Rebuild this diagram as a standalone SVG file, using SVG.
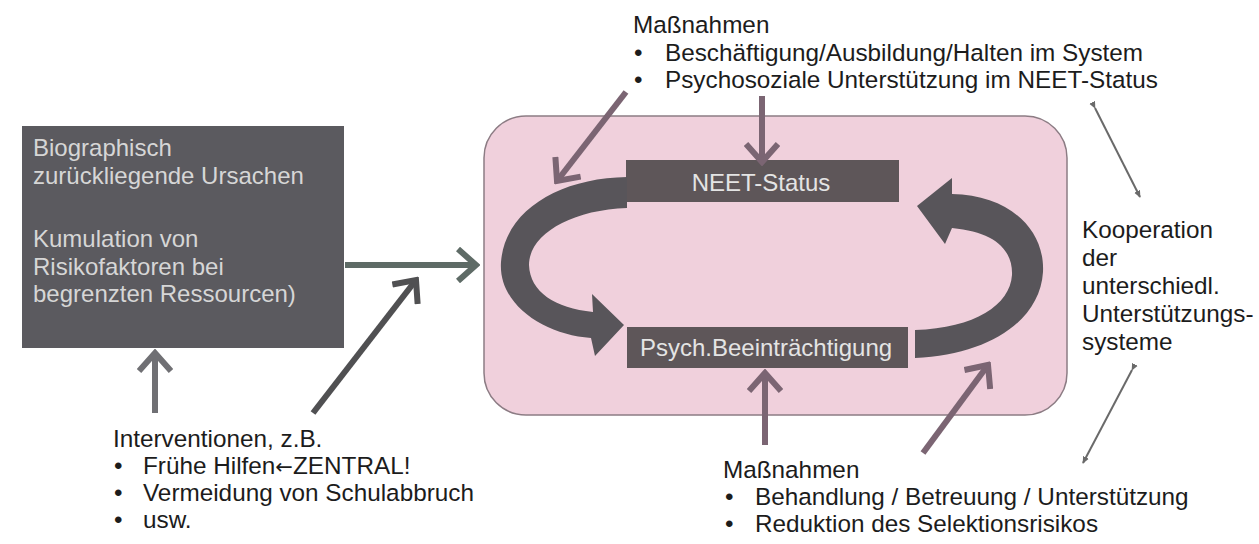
<svg xmlns="http://www.w3.org/2000/svg" width="1259" height="544" viewBox="0 0 1259 544">
<defs>
<style>
.t{font-family:"Liberation Sans",Arial,sans-serif;font-size:24.3px;fill:#1c1c1c}
.w{font-family:"Liberation Sans",Arial,sans-serif;font-size:24px;fill:#d6d6d6}
.wb{font-family:"Liberation Sans",Arial,sans-serif;font-size:24px;fill:#e4e4e4}
.m{stroke:#7b6573;stroke-width:6;fill:none}
.thin{stroke:#6a6a6a;stroke-width:2;fill:none}
</style>
<marker id="hm" viewBox="0 0 24 36" refX="20" refY="18" markerWidth="24" markerHeight="36" markerUnits="userSpaceOnUse" orient="auto"><path d="M2,2 L20,18 L2,34" fill="none" stroke="#7b6573" stroke-width="6"/></marker>
<marker id="hg" viewBox="0 0 24 36" refX="20" refY="18" markerWidth="24" markerHeight="36" markerUnits="userSpaceOnUse" orient="auto"><path d="M2,2 L20,18 L2,34" fill="none" stroke="#5e6b66" stroke-width="6"/></marker>
<marker id="hd" viewBox="0 0 24 36" refX="20" refY="18" markerWidth="24" markerHeight="36" markerUnits="userSpaceOnUse" orient="auto"><path d="M2,2 L20,18 L2,34" fill="none" stroke="#505052" stroke-width="6"/></marker>
<marker id="hv" viewBox="0 0 24 36" refX="20" refY="18" markerWidth="24" markerHeight="36" markerUnits="userSpaceOnUse" orient="auto"><path d="M2,2 L20,18 L2,34" fill="none" stroke="#707074" stroke-width="6"/></marker>
<marker id="ht" viewBox="0 0 10 10" refX="8" refY="5" markerWidth="8" markerHeight="8" markerUnits="userSpaceOnUse" orient="auto"><path d="M0,1 L9,5 L0,9 Z" fill="#6a6a6a"/></marker>
</defs>

<g id="cycle-area">
<rect x="484" y="116" width="583" height="299" rx="42" ry="42" fill="#f0d0dc" stroke="#8c7c84" stroke-width="1.5"/>
</g>

<g id="ursachen">
<rect x="22" y="126" width="322" height="222" fill="#5b5a5f"/>
<text class="w" x="33" y="156">Biographisch</text>
<text class="w" x="33" y="184">zurückliegende Ursachen</text>
<text class="w" x="33" y="247">Kumulation von</text>
<text class="w" x="33" y="275">Risikofaktoren bei</text>
<text class="w" x="33" y="302">begrenzten Ressourcen)</text>
</g>

<g id="neet">
<rect x="626" y="160" width="273" height="42" fill="#5e5659"/>
<text class="wb" x="761" y="191" text-anchor="middle">NEET-Status</text>
</g>

<g id="psych">
<rect x="627" y="327" width="281" height="41" fill="#5e5659"/>
<text class="wb" x="766" y="356" text-anchor="middle">Psych.Beeinträchtigung</text>
</g>

<g id="connectors">
<path d="M627,177 C560,178 505,210 501,262 C498,305 545,335 591,338 L595,356 L624,325 L592,294 L593,312 C555,308 530,292 529,265 C529,235 570,210 627,208 Z" fill="#58555a"/>
<path d="M915,330 C975,328 1010,305 1012,275 C1013,250 995,232 952,228 L945,244 L917,206 L952,178 L952,194 C1010,195 1045,230 1043,272 C1040,320 990,355 915,358 Z" fill="#58555a"/>
<line class="m" x1="626" y1="92" x2="557" y2="181" marker-end="url(#hm)"/>
<line class="m" x1="762" y1="96" x2="762" y2="162" marker-end="url(#hm)"/>
<line class="m" x1="765" y1="445" x2="765" y2="373" marker-end="url(#hm)"/>
<line class="m" x1="923" y1="453" x2="988" y2="365" marker-end="url(#hm)"/>
<line x1="345" y1="265" x2="476" y2="265" stroke="#5e6b66" stroke-width="6" marker-end="url(#hg)"/>
<line x1="313" y1="413" x2="416" y2="280" stroke="#505052" stroke-width="6" marker-end="url(#hd)"/>
<line x1="155" y1="413" x2="155" y2="353" stroke="#707074" stroke-width="6" marker-end="url(#hv)"/>
<line class="thin" x1="1095" y1="108" x2="1140" y2="197" marker-start="url(#ht)" marker-end="url(#ht)"/>
<line class="thin" x1="1132" y1="370" x2="1083" y2="463" marker-start="url(#ht)" marker-end="url(#ht)"/>
</g>

<g id="massnahmen-oben">
<text class="t" x="633" y="33">Maßnahmen</text>
<text class="t" x="634" y="61">•</text>
<text class="t" x="665" y="61">Beschäftigung/Ausbildung/Halten im System</text>
<text class="t" x="634" y="88">•</text>
<text class="t" x="665" y="88">Psychosoziale Unterstützung im NEET-Status</text>
</g>

<g id="interventionen">
<text class="t" x="113" y="447">Interventionen, z.B.</text>
<text class="t" x="114" y="474">•</text>
<text class="t" x="143" y="474">Frühe Hilfen<tspan font-family="DejaVu Sans, sans-serif" font-size="21">←</tspan>ZENTRAL!</text>
<text class="t" x="114" y="501">•</text>
<text class="t" x="143" y="501">Vermeidung von Schulabbruch</text>
<text class="t" x="114" y="528">•</text>
<text class="t" x="143" y="528">usw.</text>
</g>

<g id="massnahmen-unten">
<text class="t" x="723" y="478">Maßnahmen</text>
<text class="t" x="725" y="505">•</text>
<text class="t" x="755" y="505">Behandlung / Betreuung / Unterstützung</text>
<text class="t" x="725" y="532">•</text>
<text class="t" x="755" y="532">Reduktion des Selektionsrisikos</text>
</g>

<g id="kooperation">
<text class="t" x="1082" y="238">Kooperation</text>
<text class="t" x="1082" y="266">der</text>
<text class="t" x="1082" y="294">unterschiedl.</text>
<text class="t" x="1082" y="322">Unterstützungs-</text>
<text class="t" x="1082" y="350">systeme</text>
</g>
</svg>
